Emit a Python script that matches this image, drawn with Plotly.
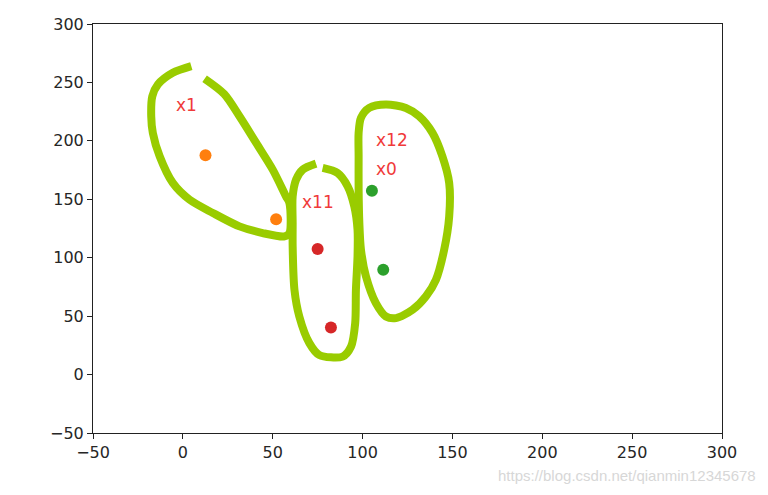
import plotly.graph_objects as go

# Data points (groups)
orange_x = [12.6, 51.9]
orange_y = [187.6, 133.0]
red_x = [75.0, 82.4]
red_y = [107.4, 40.2]
green_x = [105.2, 111.5]
green_y = [157.4, 89.7]

# Text labels
label_text = ["x1", "x12", "x0", "x11"]
label_x = [-4.0, 107.4, 107.4, 66.3]
label_y = [225.3, 195.3, 171.0, 142.5]

# Hand-drawn green loops (data coordinates)
loop1_x = [4.7, -5.6, -13.9, -17.0, -17.6, -16.7, -12.9, -5.6, 3.7, 16.7, 31.5, 44.4, 56.5, 59.3,
           59.3, 57.4, 50.0, 40.8, 31.5, 23.0, 12.1]
loop1_y = [263.9, 258.2, 248.2, 238.2, 221.0, 206.8, 186.8, 164.0, 149.7, 138.3, 126.8, 121.1, 118.2, 121.1,
           146.8, 152.5, 175.4, 198.2, 221.0, 240.0, 253.1]
loop2_x = [74.1, 66.7, 63.0, 61.1, 61.1, 61.1, 62.1, 64.8, 70.4, 75.9, 88.9, 93.6, 95.9, 96.3,
           97.2, 97.2, 95.4, 91.7, 86.1, 77.8]
loop2_y = [180.5, 175.4, 166.8, 152.5, 129.7, 109.6, 72.5, 49.7, 26.9, 16.8, 15.4, 24.0, 44.0, 72.5,
           101.1, 124.0, 143.9, 161.1, 172.5, 176.8]
loop3_x = [99.1, 101.9, 107.4, 113.0, 118.6, 127.8, 135.2, 140.8, 145.4, 148.2, 148.2, 144.4, 138.9,
           131.5, 124.1, 113.0, 103.7, 99.1, 97.8, 97.8, 97.8, 98.2, 99.1]
loop3_y = [106.8, 83.9, 61.1, 49.7, 48.3, 55.4, 66.8, 81.1, 106.8, 135.3, 164.0, 186.8, 206.8,
           221.0, 228.2, 231.1, 228.2, 219.7, 206.8, 186.8, 158.2, 129.7, 106.8]

ticks = [-50, 0, 50, 100, 150, 200, 250, 300]
watermark = "https://blog.csdn.net/qianmin12345678"

LOOP_COLOR = "rgb(153,204,0)"

fig = go.Figure()
for lx, ly in [(loop1_x, loop1_y), (loop2_x, loop2_y), (loop3_x, loop3_y)]:
    fig.add_trace(go.Scatter(x=lx, y=ly, mode="lines",
                             line=dict(color=LOOP_COLOR, width=8, shape="spline", smoothing=0.8),
                             hoverinfo="skip", showlegend=False))

for xs, ys, c in [(orange_x, orange_y, "#ff7f0e"), (red_x, red_y, "#d62728"), (green_x, green_y, "#2ca02c")]:
    fig.add_trace(go.Scatter(x=xs, y=ys, mode="markers",
                             marker=dict(color=c, size=12, line=dict(width=0)),
                             showlegend=False))

for t, x, y in zip(label_text, label_x, label_y):
    fig.add_annotation(x=x, y=y, text=t, showarrow=False, xanchor="left", yanchor="bottom",
                       yshift=-6, xshift=-2, font=dict(family="DejaVu Sans", size=17, color="#f03a3a"))

fig.add_annotation(xref="paper", yref="paper", x=1.058, y=-0.105, text=watermark, showarrow=False,
                   xanchor="right", yanchor="middle",
                   font=dict(family="Liberation Sans", size=15, color="rgb(215,215,215)"))

axis_common = dict(range=[-50, 300], tickvals=ticks, ticks="outside", ticklen=5, tickwidth=1,
                   tickcolor="#222", showline=True, linecolor="#222", linewidth=1, mirror=True,
                   showgrid=False, zeroline=False,
                   tickfont=dict(family="DejaVu Sans", size=16, color="#262626"))

fig.update_layout(
    width=768, height=495,
    margin=dict(l=93, r=46, t=24, b=62),
    plot_bgcolor="white", paper_bgcolor="white",
    xaxis=axis_common, yaxis=axis_common,
)

fig.write_html("out.html")
